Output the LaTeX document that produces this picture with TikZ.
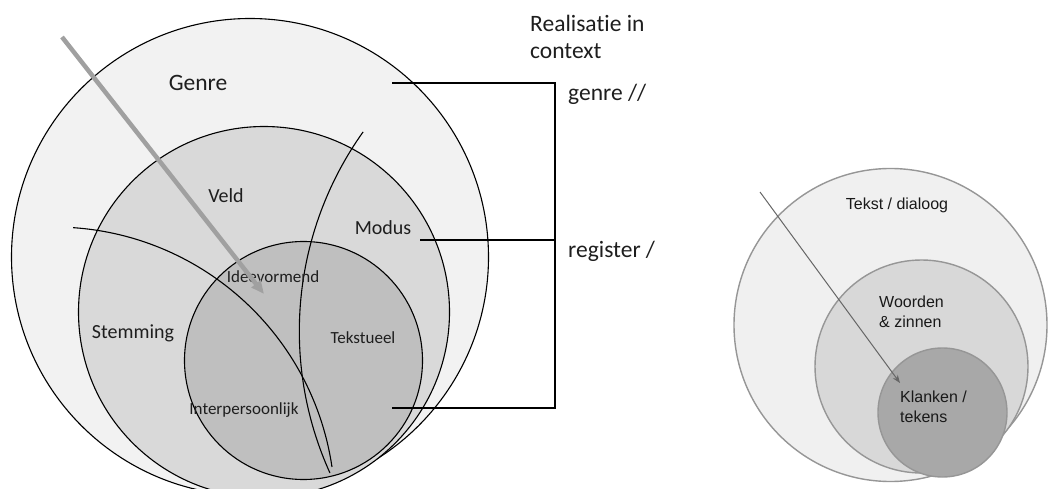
\documentclass[tikz,border=0pt]{standalone}
\usepackage{fontspec}
\setmainfont{Carlito}[Ligatures=NoCommon]
\newfontfamily\arialfont{Liberation Sans}
\definecolor{ring_outer}{RGB}{242, 242, 242}
\definecolor{ring_mid}{RGB}{217, 217, 217}
\definecolor{ring_inner}{RGB}{191, 191, 191}
\definecolor{soft_outer}{RGB}{240, 240, 240}
\definecolor{soft_mid}{RGB}{216, 216, 216}
\definecolor{soft_inner}{RGB}{168, 168, 168}
\definecolor{soft_edge}{RGB}{150, 150, 150}
\definecolor{arrow_grey}{RGB}{160, 160, 160}
\definecolor{label_dark}{RGB}{30, 30, 30}
\usetikzlibrary{arrows.meta, calc}

\begin{document}
\begin{tikzpicture}[x=1pt, y=-1pt,
        every node/.style={font=\fontsize{20}{24}\selectfont, text=label_dark},
        ring/.style={circle, draw=black, line width=1.1pt, inner sep=0pt},
        soft/.style={circle, draw=soft_edge, line width=1.4pt, inner sep=0pt},
        arcline/.style={draw=black, line width=1.1pt},
        big/.style={font=\fontsize{23.5}{27}\selectfont},
        side/.style={big, anchor=base west, inner sep=0pt},
        small/.style={font=\fontsize{17}{20}\selectfont},
        tiny/.style={font=\arialfont\fontsize{16}{20}\selectfont, align=left, text=black!90},
      ]
        \useasboundingbox (0,0) rectangle (1053,489);

        \node[ring, fill=ring_outer, minimum size=477pt] (genre) at (250,257)   {};
        \node[ring, fill=ring_mid,   minimum size=371pt] (veld)  at (264,312)   {};
        \node[ring, fill=ring_inner, minimum size=238pt] (kern)  at (303.5,360.5) {};

        \coordinate (stemc) at (54,508);
        \coordinate (modc)  at (642.6,331.2);
        \draw[arcline] ($(stemc)+(86.1:281pt)$) arc[start angle=86.1, end angle=8.4, radius=281pt];
        \draw[arcline] ($(modc)+(144.5:343.3pt)$) arc[start angle=144.5, end angle=204.4, radius=343.3pt];

        \node[big] (genrelbl) at (198,83)  {Genre};
        \node (veldlbl)  at (226,196) {Veld};
        \node (moduslbl) at (383,228) {Modus};
        \node (stemlbl)  at (133,333) {Stemming};
        \node[small] (idee)  at (273,277) {Ideevormend};
        \node[small] (tekst) at (363,338) {Tekstueel};
        \node[small] (inter) at (244,410) {Interpersoonlijk};

        \coordinate (arrstart) at (62,37);
        \coordinate (arrtip)   at (264,294);
        \draw[-{Triangle[length=13pt, width=11pt]}, arrow_grey, line width=4.5pt] (arrstart) -- (arrtip);

        \coordinate (gtip) at (392,83);
        \coordinate (mtip) at (420,240);
        \coordinate (itip) at (392,408);
        \coordinate (brtop) at (555,83);
        \coordinate (brmid) at (555,240);
        \coordinate (brbot) at (555,408);
        \draw[line width=1.1pt] (gtip) -- (brtop) -- (brbot) -- (itip);
        \draw[line width=1.1pt] (mtip) -- (brmid);

        \node[side] (real)  at (530,32) {Realisatie in};
        \node[side] (ctx)   at (530,59) {context};
        \node[side] (grlbl) at (568,101) {genre //};
        \node[side] (rglbl) at (568,258) {register /};

        \node[soft, fill=soft_outer, minimum size=313pt] (dialoog) at (890.5,325)   {};
        \node[soft, fill=soft_mid,   minimum size=213pt] (zinnen)  at (921.5,366.5) {};
        \node[soft, fill=soft_inner, minimum size=129pt] (klanken) at (942.5,412.5) {};

        \node[tiny] (dlbl) at (897,205) {Tekst / dialoog};
        \node[tiny, anchor=west, inner sep=0pt] (wlbl) at (879,312) {Woorden\\\& zinnen};
        \node[tiny, anchor=west, inner sep=0pt] (klbl) at (900,407) {Klanken /\\tekens};

        \coordinate (pijlstart) at (760,192);
        \coordinate (pijltip)   at (900,383);
        \draw[-{Stealth[length=8pt, width=6pt]}, black!60, line width=1pt] (pijlstart) -- (pijltip);
      \end{tikzpicture}
\end{document}
